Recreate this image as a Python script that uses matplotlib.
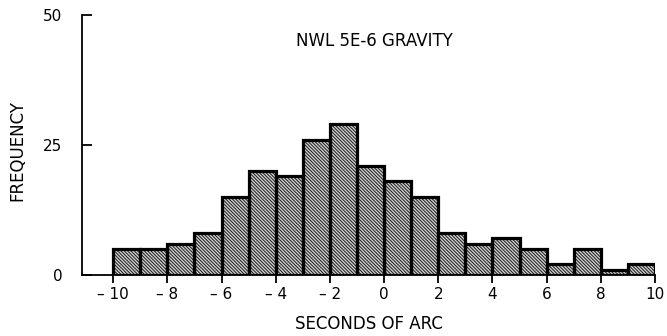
import numpy as np
from matplotlib import pyplot as plt

# histogram of residuals, 1 arc-second bins from -10 to 10
bin_left = [-10, -9, -8, -7, -6, -5, -4, -3, -2, -1, 0, 1, 2, 3, 4, 5, 6, 7, 8, 9]
frequency = [5, 5, 6, 8, 15, 20, 19, 26, 29, 21, 18, 15, 8, 6, 7, 5, 2, 5, 1, 2]
xticks = [-10, -8, -6, -4, -2, 0, 2, 4, 6, 8, 10]
xtick_labels = ['\u2013 10', '\u2013 8', '\u2013 6', '\u2013 4', '\u2013 2', '0', '2', '4', '6', '8', '10']
yticks = [0, 25, 50]

plt.rcParams['font.family'] = ['DejaVu Sans']
plt.rcParams['hatch.linewidth'] = 0.8

fig = plt.figure(figsize=(6.67, 3.36), dpi=100)
ax = fig.add_axes([0.123, 0.182, 0.859, 0.773])

# hatched fill first, then the heavy outlines on top
ax.bar(bin_left, frequency, width=1.0, align='edge', color='#d8d8d8',
       edgecolor='#262626', hatch='\\' * 10, linewidth=0)
ax.bar(bin_left, frequency, width=1.0, align='edge', fill=False,
       edgecolor='black', linewidth=2.3)

ax.set_xlim(-11.15, 10)
ax.set_ylim(0, 50)
ax.spines['top'].set_visible(False)
ax.spines['right'].set_visible(False)
ax.spines['left'].set_linewidth(1.3)
ax.spines['bottom'].set_linewidth(1.3)

ax.set_xticks(xticks)
ax.set_xticklabels(xtick_labels, fontsize=11)
ax.set_yticks(yticks)
ax.set_yticklabels([str(v) for v in yticks], fontsize=11)
ax.tick_params(axis='x', direction='out', length=6, width=1.3, pad=3)
ax.tick_params(axis='y', direction='in', length=7, width=1.3, pad=14)

ax.set_ylabel('FREQUENCY', fontsize=12)
ax.yaxis.set_label_coords(-0.097, 0.48)
ax.set_xlabel('SECONDS OF ARC', fontsize=12, labelpad=9)
ax.text(-0.35, 45, 'NWL 5E-6 GRAVITY', fontsize=12, ha='center', va='center')

plt.savefig('out.png', dpi=100)
